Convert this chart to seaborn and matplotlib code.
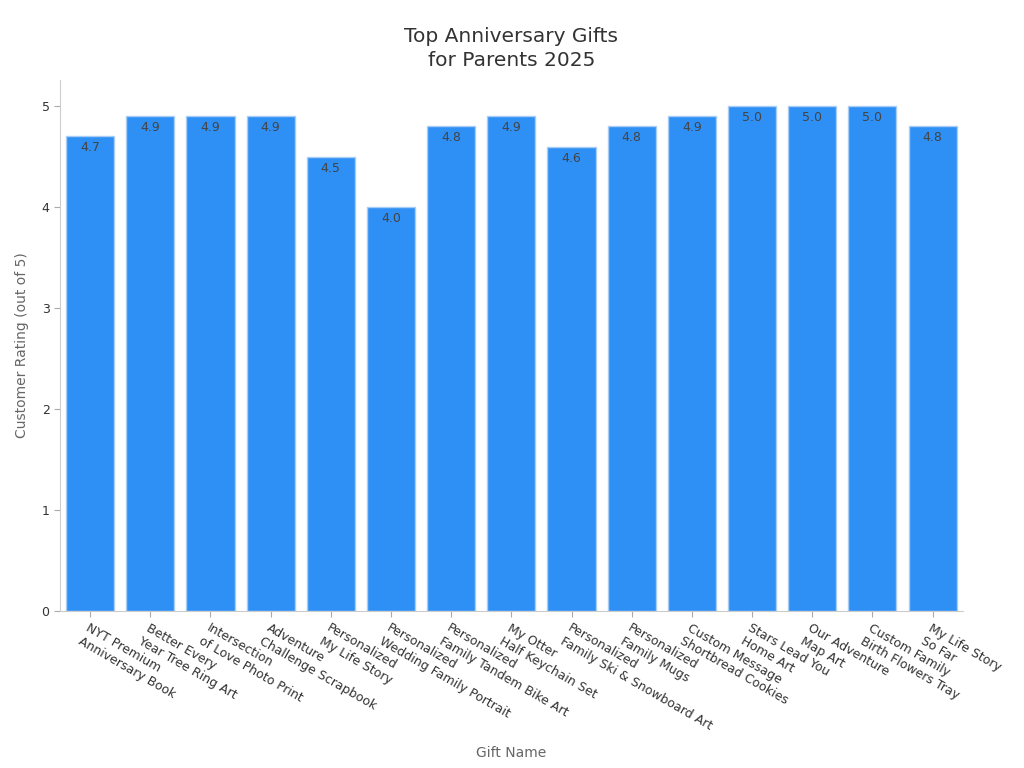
import matplotlib
matplotlib.use("Agg")
import matplotlib.pyplot as plt
import seaborn as sns
import pandas as pd

gifts = [
    "NYT Premium\nAnniversary Book",
    "Better Every\nYear Tree Ring Art",
    "Intersection\nof Love Photo Print",
    "Adventure\nChallenge Scrapbook",
    "Personalized\nMy Life Story",
    "Personalized\nWedding Family Portrait",
    "Personalized\nFamily Tandem Bike Art",
    "My Otter\nHalf Keychain Set",
    "Personalized\nFamily Ski & Snowboard Art",
    "Personalized\nFamily Mugs",
    "Custom Message\nShortbread Cookies",
    "Stars Lead You\nHome Art",
    "Our Adventure\nMap Art",
    "Custom Family\nBirth Flowers Tray",
    "My Life Story\nSo Far",
]
ratings = [4.7, 4.9, 4.9, 4.9, 4.5, 4.0, 4.8, 4.9, 4.6, 4.8, 4.9, 5.0, 5.0, 5.0, 4.8]

df = pd.DataFrame({"Gift Name": gifts, "Rating": ratings})

sns.set_style("white")
fig = plt.figure(figsize=(10.24, 7.68), dpi=100)
ax = fig.add_axes([0.0586, 0.2044, 0.8815, 0.6916])

sns.barplot(data=df, x="Gift Name", y="Rating", color="#2E90F5", saturation=1,
            edgecolor="#A9CDF5", linewidth=1, width=0.8, ax=ax)

for p, v in zip(ax.patches, ratings):
    ax.text(p.get_x() + p.get_width() / 2, v - 0.05, f"{v:.1f}",
            ha="center", va="top", fontsize=9, color="#444444")

ax.set_ylim(0, 5.26)
ax.set_xlim(-0.5, 14.5)
ax.set_yticks([0, 1, 2, 3, 4, 5])
ax.tick_params(axis="both", colors="#333333", labelsize=9, length=4, color="#aaaaaa", left=True, bottom=True)
for lbl in ax.get_xticklabels():
    lbl.set_rotation(-30)
    lbl.set_ha("left")
    lbl.set_rotation_mode("anchor")
for s in ["top", "right"]:
    ax.spines[s].set_visible(False)
for s in ["left", "bottom"]:
    ax.spines[s].set_color("#cccccc")

ax.set_xlabel("Gift Name", fontsize=10, color="#666666", labelpad=10)
ax.set_ylabel("Customer Rating (out of 5)", fontsize=10, color="#666666", labelpad=9)
ax.set_title("Top Anniversary Gifts\nfor Parents 2025", fontsize=14.5, color="#333333",
             pad=10, linespacing=1.3)

fig.savefig("out.png", dpi=100)
